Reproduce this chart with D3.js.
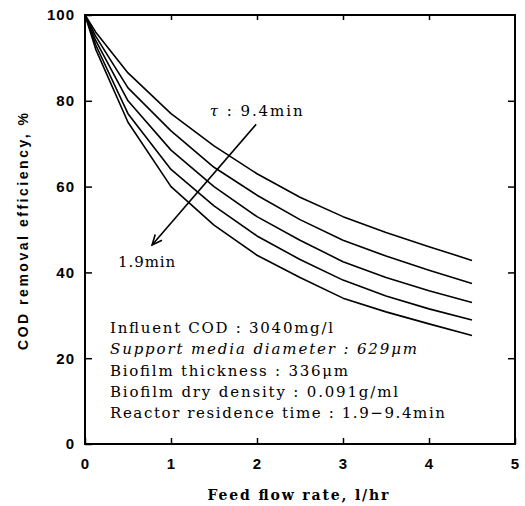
<!DOCTYPE html>
<html>
<head>
<meta charset="utf-8">
<script src="https://cdn.jsdelivr.net/npm/d3@7"></script>
<style>
  html, body { margin: 0; padding: 0; background: #fff; }
  svg { display: block; }
</style>
</head>
<body>
<svg id="chart" width="525" height="506"></svg>
<script>
// ---- data ----
const flowRate = [0, 0.125, 0.5, 1, 1.5, 2, 2.5, 3, 3.5, 4, 4.5];
const eff94 = [100, 96, 86.5, 77, 69.5, 63, 57.5, 53, 49.3, 46, 42.8];
const effB  = [100, 95, 83, 73, 64.5, 58, 52.3, 47.5, 43.8, 40.5, 37.4];
const effC  = [100, 94, 80, 68.5, 60, 53, 47.5, 42.5, 38.8, 35.7, 33];
const effD  = [100, 93, 77, 64, 55.5, 48.5, 43, 38.2, 34.5, 31.5, 28.9];
const eff19 = [100, 92, 75, 60, 51, 44, 38.8, 34, 30.8, 28, 25.3];
const seriesList = [eff94, effB, effC, effD, eff19];

const xTicks = [0, 1, 2, 3, 4, 5];
const yTicks = [0, 20, 40, 60, 80, 100];
const xMinorTicks = [1, 2, 3, 4];
const yMinorTicks = [20, 40, 60, 80];

const arrowFrom = [1.99, 74.5];
const arrowTo = [0.78, 46.4];
const tauTopPos = [1.45, 76.5];
const tauBottomPos = [0.385, 41.3];
const tauTop = "9.4min";
const tauBottom = "1.9min";

const noteLines = [
  {text: "Influent COD : 3040mg/l", italic: false, len: 223},
  {text: "Support media diameter : 629\u03bcm", italic: true, len: 307},
  {text: "Biofilm thickness : 336\u03bcm", italic: false, len: 238},
  {text: "Biofilm dry density : 0.091g/ml", italic: false, len: 288},
  {text: "Reactor residence time : 1.9\u22129.4min", italic: false, len: 335}
];

const xTitle = "Feed flow rate, l/hr";
const yTitle = "COD removal efficiency, %";

// ---- layout ----
const L = 85, R = 515, T = 15, B = 444;
const svg = d3.select("#chart");
const x = d3.scaleLinear().domain([0, 5]).range([L, R]);
const y = d3.scaleLinear().domain([0, 100]).range([B, T]);

const tickFont = "'Liberation Sans', Arial, sans-serif";
const textFont = "'DejaVu Serif', serif";

// bottom axis (labels + inward ticks)
const gB = svg.append("g").attr("transform", `translate(0,${B})`)
  .call(d3.axisBottom(x).tickValues(xTicks).tickSizeInner(-6).tickSizeOuter(0).tickPadding(14).tickFormat(d3.format("d")));
// left axis
const gL = svg.append("g").attr("transform", `translate(${L},0)`)
  .call(d3.axisLeft(y).tickValues(yTicks).tickSizeInner(-7).tickSizeOuter(0).tickPadding(10).tickFormat(d3.format("d")));
// top axis ticks
const gT = svg.append("g").attr("transform", `translate(0,${T})`)
  .call(d3.axisTop(x).tickValues(xMinorTicks).tickSizeInner(-5).tickSizeOuter(0).tickFormat(""));
// right axis ticks
const gR = svg.append("g").attr("transform", `translate(${R},0)`)
  .call(d3.axisRight(y).tickValues(yMinorTicks).tickSizeInner(-7).tickSizeOuter(0).tickFormat(""));

[gB, gL, gT, gR].forEach(g => {
  g.select(".domain").remove();
  g.selectAll(".tick line").attr("stroke", "#000").attr("stroke-width", 1.5);
  g.selectAll(".tick text")
    .attr("font-family", tickFont).attr("font-size", 15).attr("font-weight", "bold")
    .attr("letter-spacing", 1).attr("fill", "#000");
});

// frame
svg.append("rect")
  .attr("x", L).attr("y", T).attr("width", R - L).attr("height", B - T)
  .attr("fill", "none").attr("stroke", "#000").attr("stroke-width", 2);

// curves
const line = d3.line().x((d, i) => x(flowRate[i])).y(d => y(d));
svg.append("g").selectAll("path").data(seriesList).join("path")
  .attr("d", d => line(d))
  .attr("fill", "none").attr("stroke", "#000").attr("stroke-width", 1.6)
  .attr("stroke-linejoin", "round");

// arrow
svg.append("defs").append("marker")
  .attr("id", "ah").attr("viewBox", "0 0 12 12").attr("refX", 11).attr("refY", 6)
  .attr("markerWidth", 12).attr("markerHeight", 12).attr("markerUnits", "userSpaceOnUse")
  .attr("orient", "auto")
  .append("path").attr("d", "M1,1.5 L11,6 L1,10.5")
  .attr("fill", "none").attr("stroke", "#000").attr("stroke-width", 1.6);
svg.append("line")
  .attr("x1", x(arrowFrom[0])).attr("y1", y(arrowFrom[1]))
  .attr("x2", x(arrowTo[0])).attr("y2", y(arrowTo[1]))
  .attr("stroke", "#000").attr("stroke-width", 1.6).attr("marker-end", "url(#ah)");

// tau labels
const tt = svg.append("text").attr("x", x(tauTopPos[0])).attr("y", y(tauTopPos[1]))
  .attr("font-family", textFont).attr("font-size", 15).attr("fill", "#000")
  .attr("textLength", 93).attr("lengthAdjust", "spacing");
tt.append("tspan").attr("font-style", "italic").text("\u03c4");
tt.append("tspan").text(" : " + tauTop);
svg.append("text").attr("x", x(tauBottomPos[0])).attr("y", y(tauBottomPos[1]))
  .attr("font-family", textFont).attr("font-size", 15).attr("fill", "#000")
  .attr("textLength", 57).attr("lengthAdjust", "spacing")
  .text(tauBottom);

// notes
svg.append("g").selectAll("text").data(noteLines).join("text")
  .attr("x", 110).attr("y", (d, i) => 333 + i * 21.3)
  .attr("font-family", textFont).attr("font-size", 15).attr("fill", "#000")
  .attr("font-style", d => d.italic ? "italic" : "normal")
  .attr("textLength", d => d.len).attr("lengthAdjust", "spacing")
  .text(d => d.text);

// axis titles
svg.append("text").attr("x", (L + R) / 2 - 2).attr("y", 500)
  .attr("text-anchor", "middle").attr("font-family", textFont).attr("font-size", 14)
  .attr("font-weight", "bold").attr("textLength", 181).attr("lengthAdjust", "spacing")
  .text(xTitle);
svg.append("text").attr("transform", `translate(28,${(T + B) / 2 + 2}) rotate(-90)`)
  .attr("text-anchor", "middle").attr("font-family", tickFont).attr("font-size", 14)
  .attr("font-weight", "bold").attr("textLength", 237).attr("lengthAdjust", "spacing")
  .text(yTitle);
</script>
</body>
</html>
